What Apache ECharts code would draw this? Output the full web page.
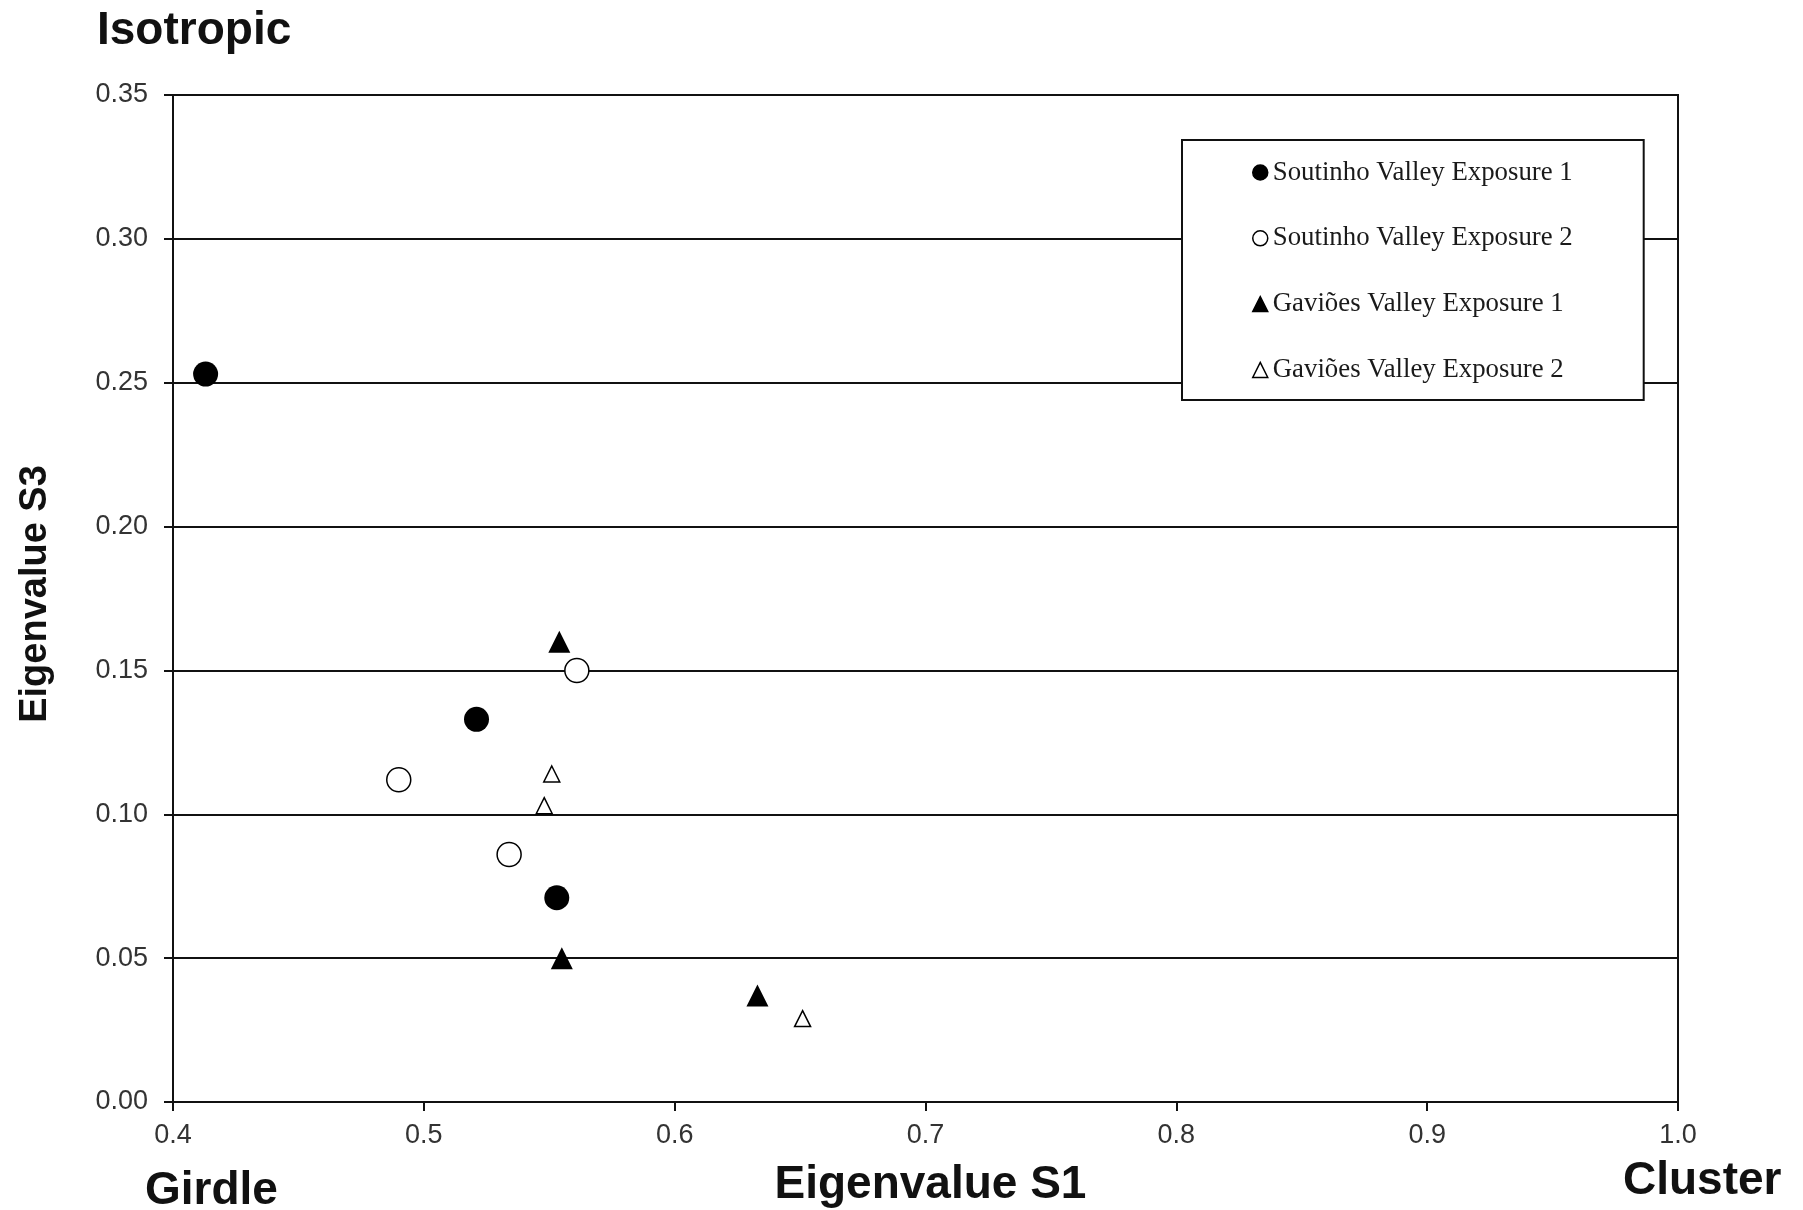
<!DOCTYPE html>
<html>
<head>
<meta charset="utf-8">
<title>Isotropic – Eigenvalue S1 vs S3</title>
<script src="https://cdn.jsdelivr.net/npm/echarts@6/dist/echarts.min.js"></script>
<style>
  html, body { margin: 0; padding: 0; background: #ffffff; }
  #chart { width: 1803px; height: 1210px; }
</style>
</head>
<body>
<div id="chart"></div>
<script>
// Series names as shown in the legend
const seriesNames = [
  'Soutinho Valley Exposure 1',
  'Soutinho Valley Exposure 2',
  'Gaviões Valley Exposure 1',
  'Gaviões Valley Exposure 2'
];

// [Eigenvalue S1, Eigenvalue S3] per exposure
const soutinho1 = [[0.413, 0.253], [0.521, 0.133], [0.553, 0.071]];
const soutinho2 = [[0.561, 0.150], [0.490, 0.112], [0.534, 0.086]];
const gavioes1  = [[0.554, 0.160], [0.555, 0.050], [0.633, 0.037]];
const gavioes2  = [[0.551, 0.114], [0.548, 0.103], [0.651, 0.029]];

// Axis ranges and tick steps
const xMin = 0.4, xMax = 1.0, xStep = 0.1;
const yMin = 0.0, yMax = 0.35, yStep = 0.05;

// Text annotations around the plot
const titleText = 'Isotropic';
const xName = 'Eigenvalue S1';
const yName = 'Eigenvalue S3';
const leftEndText = 'Girdle';
const rightEndText = 'Cluster';

const INK = '#111111';
const SANS = '"Liberation Sans", Arial, sans-serif';
const SERIF = '"Liberation Serif", "Times New Roman", serif';

const chart = echarts.init(document.getElementById('chart'), null, { renderer: 'canvas' });

const option = {
  backgroundColor: '#ffffff',
  animation: false,
  title: {
    text: titleText,
    left: 97,
    top: 8,
    padding: 0,
    textStyle: { fontFamily: SANS, fontSize: 46, fontWeight: 'bold', color: INK }
  },
  grid: {
    left: 173,
    right: 125,
    top: 95,
    bottom: 108,
    outerBoundsMode: 'none',
    containLabel: false,
    show: true,
    borderColor: INK,
    borderWidth: 2,
    backgroundColor: 'transparent'
  },
  legend: {
    orient: 'vertical',
    left: 1182,
    top: 140,
    padding: [19, 71, 16.5, 70],
    itemGap: 38.8,
    itemWidth: 15,
    itemHeight: 15,
    itemStyle: { borderWidth: 1.5, opacity: 1 },
    borderColor: INK,
    borderWidth: 2,
    backgroundColor: '#ffffff',
    data: seriesNames,
    textStyle: { fontFamily: SERIF, fontSize: 26.8, lineHeight: 26, color: '#1a1a1a' }
  },
  xAxis: {
    type: 'value',
    min: xMin,
    max: xMax,
    interval: xStep,
    name: xName,
    nameLocation: 'middle',
    nameGap: 60,
    nameTextStyle: { fontFamily: SANS, fontSize: 46, fontWeight: 'bold', color: INK, padding: [0, 0, 0, 10] },
    axisLine: { show: true, onZero: false, lineStyle: { color: INK, width: 2 } },
    axisTick: { show: true, inside: false, length: 9, lineStyle: { color: INK, width: 2 } },
    axisLabel: {
      margin: 20,
      fontFamily: SANS,
      fontSize: 27,
      color: '#333333',
      formatter: v => v.toFixed(1)
    },
    splitLine: { show: false }
  },
  yAxis: {
    type: 'value',
    min: yMin,
    max: yMax,
    interval: yStep,
    axisLine: { show: true, onZero: false, lineStyle: { color: INK, width: 2 } },
    axisTick: { show: true, inside: false, length: 9, lineStyle: { color: INK, width: 2 } },
    axisLabel: {
      margin: 25,
      fontFamily: SANS,
      fontSize: 27,
      color: '#333333',
      formatter: v => v.toFixed(2)
    },
    splitLine: { show: true, lineStyle: { color: INK, width: 2 } }
  },
  graphic: [
    {
      type: 'text',
      left: 145,
      top: 1168,
      style: { text: leftEndText, font: 'bold 46px ' + SANS, fill: INK }
    },
    {
      type: 'text',
      left: 1623,
      top: 1158,
      style: { text: rightEndText, font: 'bold 46px ' + SANS, fill: INK }
    },
    {
      type: 'text',
      x: 36,
      y: 594,
      rotation: Math.PI / 2,
      style: {
        text: yName,
        font: 'bold 38px ' + SANS,
        fill: INK,
        align: 'center',
        verticalAlign: 'middle'
      }
    }
  ],
  series: [
    {
      name: seriesNames[0],
      type: 'scatter',
      symbol: 'circle',
      symbolSize: 25,
      itemStyle: { color: '#000000', borderColor: '#000000', borderWidth: 0, opacity: 1 },
      data: soutinho1
    },
    {
      name: seriesNames[1],
      type: 'scatter',
      symbol: 'circle',
      symbolSize: 24,
      itemStyle: { color: '#ffffff', borderColor: '#000000', borderWidth: 1.5, opacity: 1 },
      data: soutinho2
    },
    {
      name: seriesNames[2],
      type: 'scatter',
      symbol: 'triangle',
      symbolSize: 22,
      itemStyle: { color: '#000000', borderColor: '#000000', borderWidth: 0, opacity: 1 },
      data: gavioes1
    },
    {
      name: seriesNames[3],
      type: 'scatter',
      symbol: 'triangle',
      symbolSize: 16,
      itemStyle: { color: '#ffffff', borderColor: '#000000', borderWidth: 1.5, opacity: 1 },
      data: gavioes2
    }
  ]
};

chart.setOption(option);
</script>
</body>
</html>
